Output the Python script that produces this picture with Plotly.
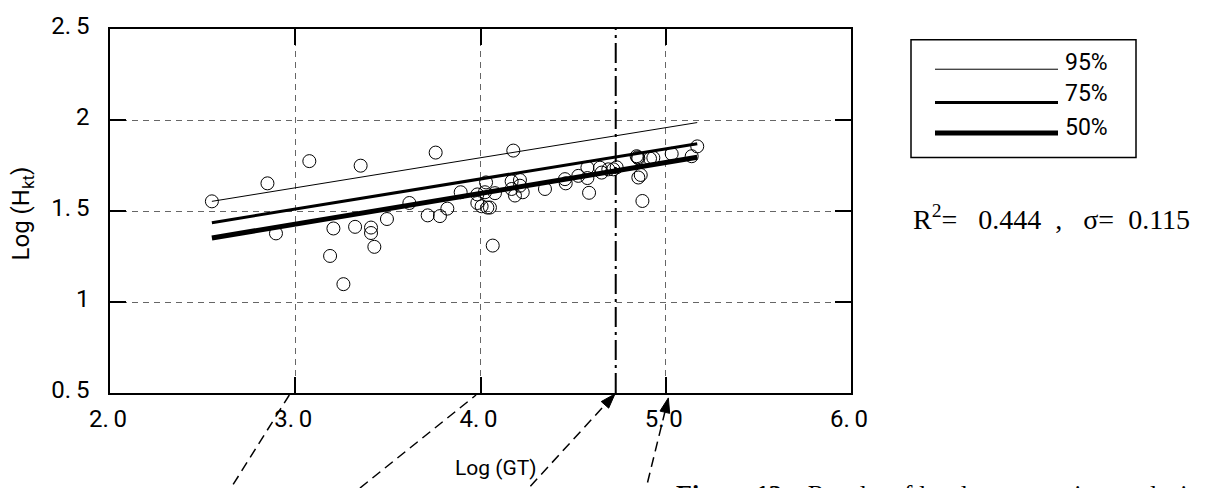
import plotly.graph_objects as go

# ---------------- data ----------------
gt_log = [2.55, 2.85, 2.896, 3.076, 3.188, 3.206, 3.260, 3.323, 3.353, 3.409,
          3.409, 3.427, 3.495, 3.616, 3.715, 3.758, 3.781, 3.821, 3.893, 3.983,
          3.983, 4.006, 4.037, 4.051, 4.030, 4.024, 4.078, 4.066, 4.168, 4.168,
          4.186, 4.213, 4.213, 4.228, 4.177, 4.348, 4.456, 4.460, 4.528, 4.577,
          4.577, 4.586, 4.645, 4.654, 4.690, 4.717, 4.735, 4.843, 4.848, 4.852,
          4.915, 4.933, 5.032, 5.170, 5.140, 4.852, 4.865, 4.874]
hkt_log = [1.553, 1.652, 1.377, 1.774, 1.253, 1.404, 1.098, 1.413, 1.749, 1.409,
           1.379, 1.303, 1.456, 1.544, 1.476, 1.821, 1.472, 1.513, 1.603, 1.591,
           1.544, 1.526, 1.519, 1.519, 1.657, 1.603, 1.598, 1.310, 1.663, 1.621,
           1.585, 1.670, 1.639, 1.603, 1.832, 1.621, 1.675, 1.652, 1.693, 1.738,
           1.681, 1.600, 1.738, 1.711, 1.729, 1.729, 1.740, 1.801, 1.795, 1.790,
           1.788, 1.792, 1.814, 1.855, 1.801, 1.684, 1.698, 1.555]

line_x = [2.55, 5.17]
line_95 = [1.553, 1.986]
line_75 = [1.436, 1.870]
line_50 = [1.352, 1.795]
legend_labels = ["95%", "75%", "50%"]
line_widths = [1, 3, 5]

mark_x = 4.73  # dash-dot reference line

x_ticks = [2, 3, 4, 5, 6]
x_ticktext = ["2.\u20090", "3.\u20090", "4.\u20090", "5.\u20090", "6.\u20090"]
y_ticks = [0.5, 1, 1.5, 2, 2.5]
y_ticktext = ["0.\u20095", "1", "1.\u20095", "2", "2.\u20095"]

NB = "\u00a0"
stats_text = ("R<sup>2</sup>=" + NB * 3 + "0.444" + NB * 2 + "," + NB * 3
              + "\u03c3=" + NB * 2 + "0.115")
caption_bold = "Figure 13"
caption_rest = "Results of log-log regression analysis"

# arrows below axis: (tail_x, tail_y, tip_x, tip_y, has_head) in data units
arrows = [
    (2.619, -0.077, 2.968, 0.489, False),
    (3.282, -0.077, 3.976, 0.489, False),
    (4.211, -0.077, 4.726, 0.495, True),
    (4.881, -0.077, 5.014, 0.473, True),
]

# ---------------- figure ----------------
X0, X1, Y0, Y1 = 2.0, 6.0, 0.5, 2.5
W, H = 1210, 488
ML, MR, MT, MB = 110, 359, 22, 95
PW, PH = W - ML - MR, H - MT - MB


def px(xd):
    return (xd - X0) / (X1 - X0)


def py(yd):
    return (yd - Y0) / (Y1 - Y0)


SANS = "Roboto, Noto Sans, sans-serif"
SERIF = "Liberation Serif, Times New Roman, serif"

fig = go.Figure()

for ys, lw in zip([line_95, line_75, line_50], line_widths):
    fig.add_trace(go.Scatter(x=line_x, y=ys, mode="lines",
                             line=dict(color="black", width=lw),
                             showlegend=False, hoverinfo="skip"))

fig.add_trace(go.Scatter(x=gt_log, y=hkt_log, mode="markers",
                         marker=dict(symbol="circle-open", size=13,
                                     color="black", line=dict(width=1)),
                         showlegend=False))

shapes = []
shapes.append(dict(type="line", xref="x", yref="y", x0=mark_x, x1=mark_x,
                   y0=Y0, y1=Y1, line=dict(color="black", width=2,
                                           dash="20px,5px,3px,5px")))

ux_per = PW / (X1 - X0)
uy_per = PH / (Y1 - Y0)
head_len, head_half = 15.0, 5.0
annotations = []
for tx, ty, hx, hy, head in arrows:
    dxp = (hx - tx) * ux_per
    dyp = (hy - ty) * uy_per
    n = (dxp ** 2 + dyp ** 2) ** 0.5
    ex, ey = dxp / n, dyp / n
    end_x, end_y = hx, hy
    if head:
        bx = hx - ex * head_len / ux_per
        by = hy - ey * head_len / uy_per
        end_x, end_y = bx, by
        p1 = (bx + (-ey) * head_half / ux_per, by + ex * head_half / uy_per)
        p2 = (bx - (-ey) * head_half / ux_per, by - ex * head_half / uy_per)
        path = "M{:.5f},{:.5f} L{:.5f},{:.5f} L{:.5f},{:.5f} Z".format(
            px(hx), py(hy), px(p1[0]), py(p1[1]), px(p2[0]), py(p2[1]))
        shapes.append(dict(type="path", xref="paper", yref="paper", path=path,
                           fillcolor="black", line=dict(color="black", width=1)))
    shapes.append(dict(type="line", xref="paper", yref="paper",
                       x0=px(tx), y0=py(ty), x1=px(end_x), y1=py(end_y),
                       line=dict(color="black", width=1.5, dash="10px,6px")))


def ppx(p):
    return (p - ML) / PW


def ppy(p):
    return (MT + PH - p) / PH


shapes.append(dict(type="rect", xref="paper", yref="paper",
                   x0=ppx(911), x1=ppx(1136), y0=ppy(153), y1=ppy(33),
                   line=dict(color="black", width=1.5), fillcolor="white"))
leg_line_y = [63, 97, 128]
leg_text_y = [56, 88, 122]
for lab, lw, ly, ty in zip(legend_labels, line_widths, leg_line_y, leg_text_y):
    shapes.append(dict(type="line", xref="paper", yref="paper",
                       x0=ppx(935), x1=ppx(1058), y0=ppy(ly), y1=ppy(ly),
                       line=dict(color="black", width=lw)))
    annotations.append(dict(text=lab, xref="paper", yref="paper",
                            x=ppx(1063), y=ppy(ty), xanchor="left",
                            yanchor="middle", showarrow=False,
                            font=dict(family=SANS, size=23, color="black")))

annotations.append(dict(text=stats_text, xref="paper", yref="paper",
                        x=ppx(911), y=ppy(214), xanchor="left", yanchor="middle",
                        showarrow=False,
                        font=dict(family=SERIF, size=28, color="black")))

annotations.append(dict(text="Log (H<sub>kt</sub>)", xref="paper", yref="paper",
                        x=ppx(22), y=ppy(210), textangle=-90,
                        xanchor="center", yanchor="middle", showarrow=False,
                        font=dict(family=SANS, size=24, color="black")))
annotations.append(dict(text="Log (GT)", xref="paper", yref="paper",
                        x=ppx(496), y=ppy(469), xanchor="center",
                        yanchor="middle", showarrow=False,
                        font=dict(family=SANS, size=21, color="black")))

annotations.append(dict(text="<b>" + caption_bold + "</b>" + NB * 4 + caption_rest,
                        xref="paper", yref="paper", x=ppx(674), y=ppy(480),
                        xanchor="left", yanchor="top", showarrow=False,
                        font=dict(family=SERIF, size=26, color="black")))

axis_common = dict(showline=True, linecolor="black", linewidth=1.5,
                   mirror="all", ticks="inside", ticklen=16, tickwidth=1.5,
                   tickcolor="black", showgrid=True, gridcolor="#666666",
                   gridwidth=1, griddash="6px,5px", zeroline=False,
                   tickfont=dict(family=SANS, size=24, color="black"))

fig.update_layout(
    width=W, height=H,
    margin=dict(l=ML, r=MR, t=MT, b=MB, pad=0),
    paper_bgcolor="white", plot_bgcolor="white",
    xaxis=dict(range=[X0, X1], tickmode="array", tickvals=x_ticks,
               ticktext=x_ticktext, ticklabelstandoff=3, ticklabelshift=-2,
               **axis_common),
    yaxis=dict(range=[Y0, Y1], tickmode="array", tickvals=y_ticks,
               ticktext=y_ticktext, ticklabelstandoff=14, ticklabelshift=-3,
               **axis_common),
    shapes=shapes, annotations=annotations,
    showlegend=False,
)

fig.write_html("out.html",
               config={"displayModeBar": False},
               post_script="document.body.style.margin='0';"
                           "document.body.style.overflow='hidden';")
